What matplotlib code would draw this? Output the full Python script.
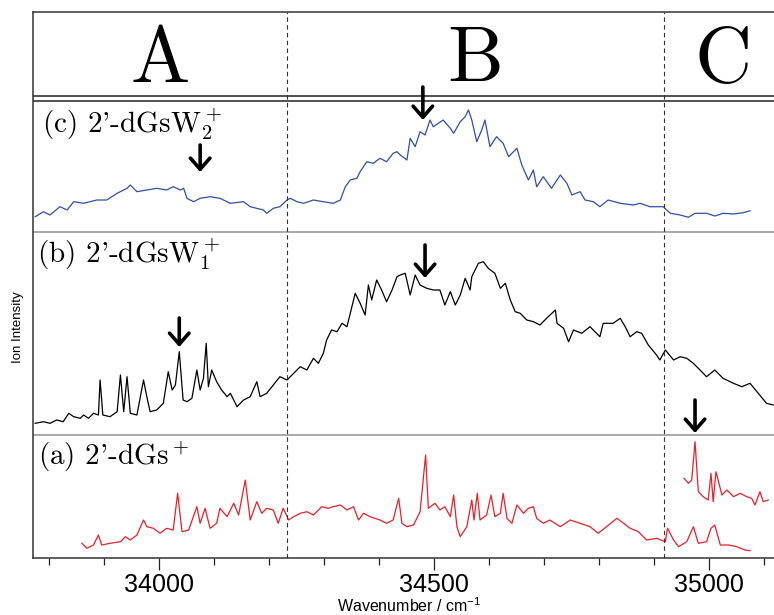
import numpy as np
import matplotlib
matplotlib.use('Agg')
import matplotlib.pyplot as plt
from matplotlib.ticker import MultipleLocator

plt.rcParams['font.family'] = ['Liberation Sans', 'DejaVu Sans']
plt.rcParams['mathtext.fontset'] = 'custom'
plt.rcParams['mathtext.rm'] = 'Liberation Sans'
plt.rcParams['mathtext.it'] = 'Liberation Sans:italic'

# (c) 2'-dGsW2+  (blue)
wn_c = [33774, 33789, 33801, 33819, 33832, 33844, 33862, 33886, 33904, 33923,
        33941, 33947, 33959, 33977, 33995, 34013, 34025, 34038, 34044, 34050,
        34062, 34074, 34092, 34110, 34129, 34153, 34165, 34189, 34195, 34207,
        34219, 34232, 34238, 34250, 34262, 34280, 34298, 34316, 34329, 34338,
        34347, 34359, 34365, 34377, 34389, 34401, 34413, 34425, 34432, 34438,
        34450, 34456, 34465, 34474, 34483, 34492, 34498, 34516, 34529, 34535,
        34547, 34556, 34562, 34568, 34577, 34586, 34592, 34601, 34613, 34625,
        34635, 34650, 34659, 34671, 34680, 34686, 34698, 34713, 34729, 34741,
        34750, 34765, 34774, 34789, 34801, 34816, 34838, 34862, 34874, 34892,
        34916, 34929, 34947, 34962, 34974, 34995, 35010, 35025, 35044, 35062,
        35074]
int_c = [15.3, 20.3, 17, 25.3, 22, 30.3, 28.7, 32, 32, 38.7,
         43.7, 47, 40.3, 42, 43.7, 42, 45.3, 42, 43.7, 33.7,
         30.3, 33.7, 35.3, 33.7, 28.7, 30.3, 25.3, 22, 18.7, 23.7,
         25.3, 32, 33.7, 30.3, 28.7, 32, 30.3, 28.7, 32, 45.3,
         52, 53.7, 60.3, 70.3, 68.7, 73.7, 70.3, 78.7, 80.3, 77,
         72, 93.7, 85.3, 100.3, 97, 112, 105.3, 112, 103.7, 98.7,
         110.3, 115.3, 122, 112, 90.3, 102, 112, 85.3, 95.3, 88.7,
         75.3, 83.7, 67, 52, 62, 45.3, 55.3, 43.7, 57, 48.7,
         37, 40.3, 32, 30.3, 25.3, 32, 28.7, 27, 28.7, 25.3,
         25.3, 18.7, 17, 14.7, 18.7, 18.7, 16, 18.7, 18, 19.3,
         21.3]

# (b) 2'-dGsW1+  (black)
wn_b = [33774, 33789, 33801, 33813, 33825, 33835, 33844, 33856, 33862, 33871,
        33880, 33889, 33892, 33897, 33910, 33923, 33929, 33935, 33941, 33947,
        33959, 33971, 33977, 33983, 33995, 34007, 34016, 34023, 34029, 34036,
        34043, 34050, 34059, 34068, 34074, 34080, 34085, 34089, 34095, 34104,
        34113, 34123, 34129, 34141, 34153, 34165, 34177, 34183, 34195, 34207,
        34219, 34232, 34244, 34256, 34268, 34280, 34289, 34298, 34304, 34313,
        34323, 34332, 34341, 34350, 34356, 34365, 34374, 34380, 34386, 34395,
        34404, 34413, 34423, 34432, 34438, 34447, 34456, 34465, 34474, 34486,
        34498, 34510, 34519, 34529, 34538, 34547, 34556, 34565, 34568, 34580,
        34589, 34598, 34610, 34620, 34629, 34638, 34647, 34656, 34668, 34680,
        34692, 34704, 34720, 34723, 34735, 34744, 34753, 34768, 34783, 34801,
        34807, 34825, 34838, 34847, 34856, 34868, 34877, 34889, 34904, 34910,
        34920, 34935, 34947, 34959, 34971, 34983, 34995, 35010, 35025, 35044,
        35059, 35074, 35089, 35104, 35116]
int_b = [11.7, 13.3, 11.7, 15, 13.3, 21.7, 18.3, 16.7, 20, 16.7,
         21.7, 20, 55, 20, 18.3, 23.3, 60, 23.3, 58.3, 21.7,
         20, 55, 38.3, 23.3, 25, 31.7, 63.3, 45, 50, 83.3,
         35, 33.3, 36.7, 65, 45, 56.7, 91.7, 48.3, 65, 53.3,
         45, 38.3, 41.7, 28.3, 35, 38.3, 53.3, 38.3, 41.7, 50,
         58.3, 55, 61.7, 68.3, 65, 76.7, 71.7, 81.7, 95, 105,
         103.3, 111.7, 108.3, 128.3, 141.7, 131.7, 120, 150, 135, 155,
         145, 133.3, 145, 158.3, 160, 161.7, 140, 160, 150, 146.7,
         145, 145, 130, 143.3, 130, 140, 156.7, 145, 158.3, 171.7,
         173.3, 166.7, 161.7, 146.7, 151.7, 135, 123.3, 121.7, 115, 113.3,
         110, 116.7, 125, 111.7, 106.7, 93.3, 105, 101.7, 108.3, 98.3,
         111.7, 111.7, 116.7, 108.3, 98.3, 103.3, 101.7, 90, 80, 75,
         85, 75, 78.3, 76.7, 71.7, 65, 58.3, 65, 56.7, 51.7,
         48.3, 51.7, 41.7, 31.7, 30]

# (a) 2'-dGs+  (red), full scan
wn_a = [33859, 33868, 33880, 33889, 33895, 33910, 33929, 33938, 33947, 33959,
        33971, 33977, 33989, 34001, 34013, 34025, 34033, 34041, 34053, 34068,
        34074, 34083, 34092, 34104, 34110, 34123, 34135, 34144, 34156, 34165,
        34177, 34186, 34195, 34207, 34216, 34225, 34235, 34244, 34256, 34268,
        34280, 34295, 34307, 34316, 34329, 34341, 34353, 34362, 34371, 34383,
        34401, 34413, 34425, 34435, 34441, 34450, 34462, 34474, 34484, 34489,
        34501, 34510, 34519, 34529, 34535, 34541, 34547, 34559, 34568, 34572,
        34578, 34583, 34595, 34603, 34610, 34620, 34625, 34632, 34641, 34650,
        34662, 34671, 34680, 34686, 34698, 34710, 34729, 34747, 34765, 34783,
        34798, 34813, 34832, 34844, 34856, 34871, 34886, 34904, 34920, 34924,
        34935, 34944, 34959, 34971, 34980, 34995, 35003, 35010, 35020, 35035,
        35050, 35065, 35074]
int_a = [14.7, 9.7, 13, 23, 13, 14.7, 16.3, 21.3, 18, 23,
         38, 31.3, 29.7, 24.7, 29.7, 28, 64.7, 26.3, 28, 51.3,
         34.7, 49.7, 29.7, 34.7, 49.7, 41.3, 54.7, 43, 78, 38,
         56.3, 44.7, 49.7, 48, 34.7, 49.7, 38, 41.3, 44.7, 46.3,
         43, 51.3, 49.7, 51.3, 53, 48, 51.3, 38, 44.7, 41.3,
         38, 34.7, 38, 59.7, 34.7, 31.3, 33, 46.3, 103, 49.7,
         54.7, 48, 51.3, 41.3, 63, 31.3, 21.3, 31.3, 58, 38,
         64.7, 38, 43, 63, 41.3, 44.7, 64.7, 39.7, 34.7, 53,
         44.7, 49.7, 51.3, 39.7, 34.7, 38, 31.3, 38, 34.7, 31.3,
         24.7, 31.3, 39.7, 34.7, 29.7, 26.3, 18, 19.7, 16.3, 29.7,
         18, 11.3, 16.3, 31.3, 14.7, 16.3, 29.7, 33, 13, 13,
         11.3, 8, 7.3]

# (a) region C scan (red, upper)
wn_a2 = [34954, 34962, 34968, 34974, 34980, 34989, 34998, 35003, 35007, 35012,
         35016, 35023, 35032, 35044, 35056, 35068, 35077, 35083, 35092, 35098,
         35107]
int_a2 = [79.7, 74.7, 78, 116.3, 66.3, 61.3, 58, 84.7, 56.3, 86.3,
          78, 63, 68, 61.3, 64.7, 61.3, 59.7, 53, 66.3, 56.3,
          58]

region_edges = [34232, 34918]
region_names = ['A', 'B', 'C']
region_centers = [34002, 34575, 35025]
arrow_wn = [34074, 34479, 34036, 34483, 34974]

fig = plt.figure(figsize=(7.74, 6.15), dpi=100)
ax = fig.add_axes([33 / 774, 57 / 615, 747.8 / 774, 546 / 615])
ax.set_xlim(33770, 35130)
ax.set_ylim(0, 546)

base_a, base_b, base_c = 0, 123, 326

ax.plot(wn_c, np.array(int_c) + base_c, color='#2f50a8', lw=0.9)
ax.plot(wn_b, np.array(int_b) + base_b, color='black', lw=0.9)
ax.plot(wn_a, np.array(int_a) + base_a, color='#e8202a', lw=0.9)
ax.plot(wn_a2, np.array(int_a2) + base_a, color='#e8202a', lw=0.9)

# panel separators
ax.axhline(base_b, color='#9a9a9a', lw=1.2)
ax.axhline(base_c, color='#9a9a9a', lw=1.2)
ax.axhline(462, color='#222222', lw=1.1)
ax.axhline(457.5, color='#222222', lw=1.1)
for e in region_edges:
    ax.axvline(e, color='#333333', lw=0.8, ls=(0, (4, 3)))

for wn, name in zip(region_centers, region_names):
    ax.text(wn, 476, name, family='cmr10', fontsize=57, ha='center', va='baseline')

lab_kw = dict(family='cmr10', math_fontfamily='cm', fontsize=21, va='baseline')
ax.text(33786, 425, "(c) 2'-dGsW$_2^+$", **lab_kw)
ax.text(33777, 295, "(b) 2'-dGsW$_1^+$", **lab_kw)
ax.text(33779, 93, "(a) 2'-dGs$^+$", **lab_kw)

# arrows: (tail, tip) heights
arrow_y = [(413, 386), (471, 438), (240, 211), (313, 280), (158, 125)]
for wn, (tail, tip) in zip(arrow_wn, arrow_y):
    ax.annotate('', xy=(wn, tip), xytext=(wn, tail),
                arrowprops=dict(arrowstyle='->,head_length=0.4,head_width=0.35',
                                lw=2.6, color='black', shrinkA=0, shrinkB=0,
                                mutation_scale=20))

ax.set_yticks([])
ax.set_xticks([34000, 34500, 35000])
ax.xaxis.set_minor_locator(MultipleLocator(100))
ax.tick_params(axis='x', which='major', length=8.6, width=0.9, color='#222222',
               direction='out', pad=2, labelsize=18)
ax.tick_params(axis='x', which='minor', length=5, width=0.9, color='#222222',
               direction='out')
for s in ['left', 'top', 'bottom']:
    ax.spines[s].set_color('#333333')
    ax.spines[s].set_linewidth(1.1)
ax.spines['right'].set_visible(False)

fig.text(18 / 774, 1 - 327 / 615, 'Ion Intensity', rotation=90, ha='center',
         va='center', fontsize=9.5)
fig.text(409 / 774, 3 / 615, 'Wavenumber / cm$^{-1}$', ha='center', va='baseline',
         fontsize=11.5)

fig.savefig('out.png', dpi=100)
